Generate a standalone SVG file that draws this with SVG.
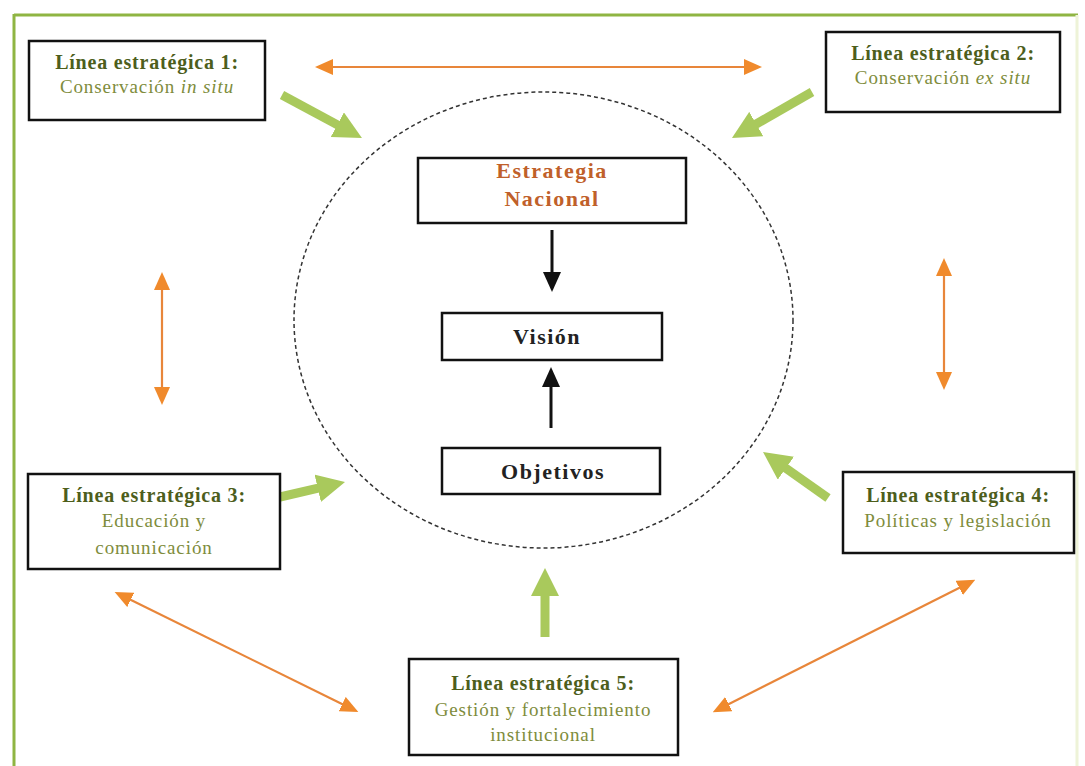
<svg xmlns="http://www.w3.org/2000/svg" width="1085" height="766" viewBox="0 0 1085 766">
<style>
.box{fill:#fff;stroke:#111;stroke-width:2.5}
.t{font-family:"Liberation Serif",serif;font-size:20px;letter-spacing:0.8px;font-weight:bold;fill:#4d5e1c;text-anchor:middle}
.s{font-family:"Liberation Serif",serif;font-size:19px;letter-spacing:0.9px;fill:#7e8c3c;text-anchor:middle}
.c{font-family:"Liberation Serif",serif;font-size:22px;letter-spacing:1.5px;font-weight:bold;fill:#222;text-anchor:middle}
.ga{stroke:#a9c95c;stroke-width:9;fill:none}
.oa{stroke:#e8863a;stroke-width:2.2;fill:none}
.ba{stroke:#111;stroke-width:3;fill:none}
</style>
<defs>
<marker id="gh" markerUnits="userSpaceOnUse" markerWidth="28" markerHeight="28" viewBox="0 0 28 28" refX="5" refY="14" orient="auto"><path d="M0,0 L28,14 L0,28 z" fill="#a9c95c"/></marker>
<marker id="oh" markerUnits="userSpaceOnUse" markerWidth="18" markerHeight="16" viewBox="0 0 18 16" refX="2" refY="8" orient="auto-start-reverse"><path d="M0,0 L18,8 L0,16 z" fill="#f08a2c"/></marker>
<marker id="bh" markerUnits="userSpaceOnUse" markerWidth="20" markerHeight="18" viewBox="0 0 20 18" refX="2" refY="9" orient="auto"><path d="M0,0 L20,9 L0,18 z" fill="#111"/></marker>
</defs>
<rect width="1085" height="766" fill="#fff"/>
<g id="frame">
<line x1="14" y1="15" x2="1078" y2="15" stroke="#8fb543" stroke-width="3"/>
<line x1="14" y1="14" x2="14" y2="766" stroke="#8fb543" stroke-width="3"/>
<line x1="1077" y1="15" x2="1077" y2="766" stroke="#eef3d8" stroke-width="3"/>
</g>
<g id="circle"><ellipse cx="543.5" cy="320" rx="249.5" ry="228" fill="none" stroke="#333" stroke-width="1.5" stroke-dasharray="4 3"/></g>
<g id="connectors">
<line class="oa" x1="331" y1="67" x2="746" y2="67" marker-start="url(#oh)" marker-end="url(#oh)"/>
<line class="oa" x1="162" y1="288" x2="162" y2="389" marker-start="url(#oh)" marker-end="url(#oh)"/>
<line class="oa" x1="944" y1="274" x2="944" y2="374" marker-start="url(#oh)" marker-end="url(#oh)"/>
<line class="oa" x1="129" y1="599" x2="344" y2="705" marker-start="url(#oh)" marker-end="url(#oh)"/>
<line class="oa" x1="727" y1="705" x2="961" y2="587" marker-start="url(#oh)" marker-end="url(#oh)"/>
<line class="ga" x1="282" y1="95" x2="341.7" y2="127.1" marker-end="url(#gh)"/>
<line class="ga" x1="812" y1="92" x2="751.9" y2="126.5" marker-end="url(#gh)"/>
<line class="ga" x1="280" y1="497" x2="322.6" y2="487.2" marker-end="url(#gh)"/>
<line class="ga" x1="828" y1="498" x2="781.8" y2="465.3" marker-end="url(#gh)"/>
<line class="ga" x1="545" y1="637" x2="545" y2="591" marker-end="url(#gh)"/>
<line class="ba" x1="552" y1="230" x2="552" y2="274" marker-end="url(#bh)"/>
<line class="ba" x1="551" y1="428" x2="551" y2="385" marker-end="url(#bh)"/>
</g>
<g id="le1"><rect class="box" x="29" y="41" width="236" height="79"/>
<text class="t" x="147" y="69">Línea estratégica 1:</text>
<text class="s" x="147" y="93">Conservación <tspan font-style="italic">in situ</tspan></text></g>
<g id="le2"><rect class="box" x="826" y="32" width="234" height="80"/>
<text class="t" x="943" y="60">Línea estratégica 2:</text>
<text class="s" x="943" y="84">Conservación <tspan font-style="italic">ex situ</tspan></text></g>
<g id="le3"><rect class="box" x="28" y="474" width="252" height="95"/>
<text class="t" x="154" y="502">Línea estratégica 3:</text>
<text class="s" x="154" y="527">Educación y</text>
<text class="s" x="154" y="554">comunicación</text></g>
<g id="le4"><rect class="box" x="843" y="472" width="231" height="81"/>
<text class="t" x="958" y="502">Línea estratégica 4:</text>
<text class="s" x="958" y="527">Políticas y legislación</text></g>
<g id="le5"><rect class="box" x="409" y="659" width="269" height="96"/>
<text class="t" x="543" y="690">Línea estratégica 5:</text>
<text class="s" x="543" y="716">Gestión y fortalecimiento</text>
<text class="s" x="543" y="741">institucional</text></g>
<g id="estrategia"><rect class="box" x="418" y="158" width="268" height="65"/>
<text class="c" x="552" y="178" style="fill:#c0602a">Estrategia</text>
<text class="c" x="552" y="206" style="fill:#c0602a">Nacional</text></g>
<g id="vision"><rect class="box" x="442" y="313" width="220" height="47"/>
<text class="c" x="547" y="344">Visión</text></g>
<g id="objetivos"><rect class="box" x="442" y="448" width="218" height="46"/>
<text class="c" x="553" y="479">Objetivos</text></g>
</svg>
